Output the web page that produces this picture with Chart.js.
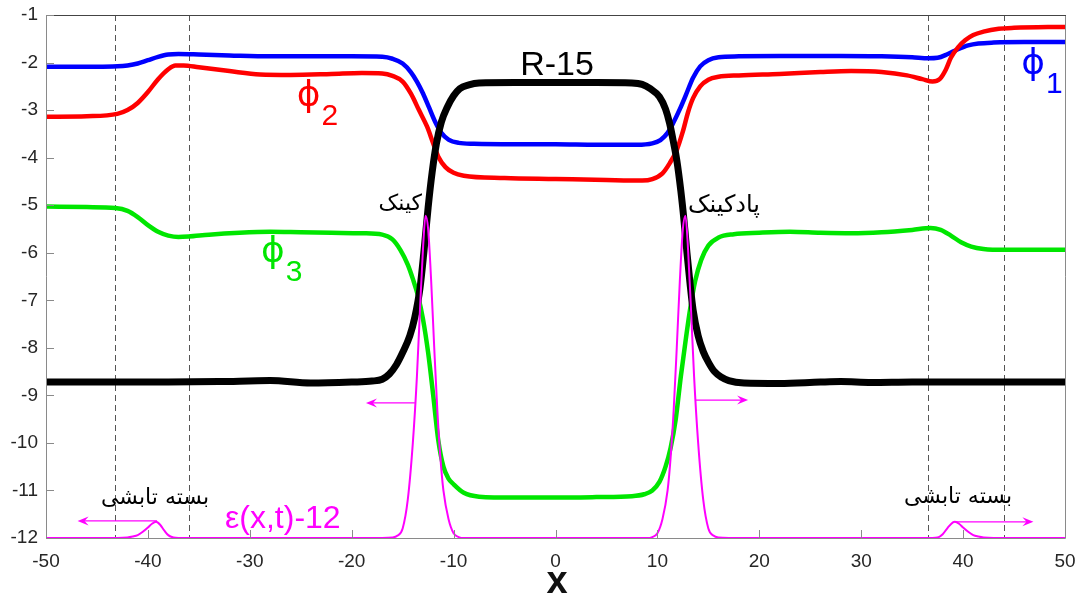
<!DOCTYPE html>
<html><head><meta charset="utf-8">
<script src="https://cdn.jsdelivr.net/npm/chart.js@4.4.0/dist/chart.umd.min.js"></script>
<style>html,body{margin:0;padding:0;background:#fff;} #wrap{width:1078px;height:595px;}</style>
</head><body><div id="wrap"><canvas id="c" width="1078" height="595"></canvas></div>
<script>
// ---- data ----
const xPhi1 = [-50,-45,-43,-42,-41,-40,-39,-38,-37,-35,-32,-28,-24,-20,-17,-16,-15,-14.2,-13.6,-13,-12.4,-11.8,-11.2,-10.5,-9.5,-8,-4,0,4,8,9.5,10.3,11,11.6,12.2,12.8,13.5,14.2,15,16,18,22,28,32,35,36.6,37.5,38.5,39.5,40.5,41.5,43,46,50];
const yPhi1 = [-2.09,-2.09,-2.08,-2.06,-2.02,-1.95,-1.88,-1.83,-1.82,-1.83,-1.85,-1.87,-1.87,-1.87,-1.88,-1.92,-2.02,-2.2,-2.4,-2.65,-2.95,-3.25,-3.48,-3.62,-3.69,-3.71,-3.72,-3.72,-3.73,-3.73,-3.70,-3.63,-3.48,-3.25,-2.98,-2.68,-2.32,-2.08,-1.95,-1.89,-1.87,-1.86,-1.86,-1.87,-1.89,-1.91,-1.9,-1.82,-1.72,-1.64,-1.60,-1.58,-1.57,-1.57];

const xPhi2 = [-50,-46,-43,-42,-41,-40,-39,-38,-37.3,-36.5,-35,-32,-29,-26,-22,-19,-17,-16,-15,-14.2,-13.4,-12.6,-12,-11.5,-10.8,-10,-9,-5,0,5,8.5,9.5,10.5,11.2,11.9,12.5,13,13.5,14.2,15,16,18,22,26,29,32,34.5,36,37,37.7,38.3,38.8,39.5,40.2,41,42,43.5,45,50];
const yPhi2 = [-3.14,-3.13,-3.08,-3.0,-2.85,-2.62,-2.35,-2.14,-2.06,-2.06,-2.10,-2.18,-2.25,-2.26,-2.24,-2.22,-2.23,-2.28,-2.40,-2.65,-3.0,-3.35,-3.7,-3.98,-4.2,-4.32,-4.38,-4.43,-4.45,-4.47,-4.48,-4.45,-4.33,-4.12,-3.84,-3.45,-3.05,-2.75,-2.5,-2.36,-2.30,-2.27,-2.24,-2.20,-2.18,-2.20,-2.27,-2.35,-2.40,-2.35,-2.15,-1.90,-1.68,-1.53,-1.42,-1.35,-1.29,-1.27,-1.25];

const xPhi3 = [-50,-46,-43.2,-42,-41,-40,-39,-38,-37,-36,-34,-31,-28,-25,-22,-19,-17,-16,-15.2,-14.5,-14,-13.5,-13,-12.5,-12,-11.5,-11,-10.5,-10,-9,-7.5,-4,0,4,7.5,8.7,9.5,10.2,10.8,11.3,11.8,12.3,12.8,13.2,13.7,14.3,15,16,17.5,20,23,26,29,32,35,36.8,37.8,38.8,39.8,40.8,42,44,50];
const yPhi3 = [-5.03,-5.04,-5.06,-5.12,-5.25,-5.42,-5.56,-5.64,-5.67,-5.66,-5.62,-5.58,-5.56,-5.57,-5.58,-5.59,-5.62,-5.72,-5.95,-6.25,-6.55,-6.9,-7.4,-8.1,-9.0,-9.95,-10.5,-10.75,-10.87,-11.05,-11.13,-11.15,-11.15,-11.14,-11.12,-11.08,-11.0,-10.82,-10.5,-10.1,-9.5,-8.6,-7.8,-7.2,-6.6,-6.15,-5.85,-5.68,-5.61,-5.58,-5.56,-5.58,-5.59,-5.57,-5.52,-5.48,-5.52,-5.64,-5.78,-5.87,-5.92,-5.94,-5.94];

const xR = [-50,-44,-38,-33,-28,-24,-20,-18,-17,-16.3,-15.6,-15,-14.3,-13.8,-13.3,-12.9,-12.5,-12.1,-11.7,-11.2,-10.6,-10,-9.4,-8.5,-7.5,-4,0,4,7.5,8.5,9.3,10.2,10.8,11.2,11.6,11.9,12.3,12.6,12.9,13.2,13.5,14,14.5,15,15.6,16.3,17,18.5,22,26,28,31,35,40,50];
const yR = [-8.72,-8.72,-8.72,-8.71,-8.69,-8.74,-8.72,-8.70,-8.66,-8.55,-8.35,-8.1,-7.75,-7.35,-6.75,-5.95,-5.05,-4.3,-3.72,-3.25,-2.93,-2.7,-2.55,-2.47,-2.43,-2.42,-2.42,-2.42,-2.43,-2.46,-2.55,-2.72,-2.98,-3.28,-3.7,-4.05,-4.7,-5.3,-6.0,-6.64,-7.2,-7.75,-8.08,-8.3,-8.5,-8.62,-8.69,-8.74,-8.75,-8.72,-8.71,-8.73,-8.72,-8.72,-8.72];

const xEps = [-50,-43,-42,-41.5,-41,-40.5,-40,-39.6,-39.2,-38.8,-38.4,-38,-37.5,-37,-17,-16,-15.5,-15,-14.5,-14,-13.6,-13.3,-13,-12.75,-12.5,-12.2,-11.9,-11.6,-11.3,-11,-10.5,-10,-9.5,-9,9,9.5,10,10.5,11,11.3,11.6,11.9,12.2,12.5,12.75,13,13.3,13.6,14,14.5,15,15.5,16,17,37,37.5,38,38.5,39,39.2,39.6,40,40.5,41,41.5,42,43,50];
const yEps = [-12,-12,-11.99,-11.97,-11.94,-11.87,-11.78,-11.70,-11.66,-11.72,-11.84,-11.94,-11.99,-12,-12,-11.99,-11.95,-11.8,-11.2,-10.0,-8.6,-7.2,-5.9,-5.22,-5.5,-6.6,-8.0,-9.3,-10.3,-11.0,-11.6,-11.9,-11.98,-12,-12,-11.98,-11.9,-11.6,-11.0,-10.3,-9.3,-8.0,-6.6,-5.5,-5.22,-5.9,-7.2,-8.6,-10.0,-11.2,-11.8,-11.95,-11.99,-12,-12,-11.99,-11.92,-11.78,-11.67,-11.66,-11.70,-11.78,-11.87,-11.94,-11.97,-11.99,-12,-12];

const xTickValues = [-50,-40,-30,-20,-10,0,10,20,30,40,50];
const yTickValues = [-12,-11,-10,-9,-8,-7,-6,-5,-4,-3,-2,-1];
const dashedX = [-43.2,-36,36.6,44];

// ---- helpers ----
const pts = (xs, ys) => xs.map((x, i) => ({x: x, y: ys[i]}));
const LAT = '"Liberation Sans", Arial, sans-serif';
const FA = '"DejaVu Sans", sans-serif';

const overlay = {
  id: 'overlay',
  beforeDatasetsDraw(chart) {
    const {ctx, chartArea: a, scales: {x}} = chart;
    ctx.save();
    ctx.strokeStyle = '#555';
    ctx.lineWidth = 1;
    ctx.setLineDash([6, 4]);
    dashedX.forEach(v => {
      const px = Math.round(x.getPixelForValue(v)) + 0.5;
      ctx.beginPath(); ctx.moveTo(px, a.top); ctx.lineTo(px, a.bottom); ctx.stroke();
    });
    ctx.restore();
  },
  afterDatasetsDraw(chart) {
    const {ctx, chartArea: a, scales: {x, y}} = chart;
    ctx.save();
    // frame
    ctx.lineWidth = 1;
    ctx.strokeStyle = '#8a8a8a';
    ctx.beginPath();
    ctx.moveTo(a.left + 0.5, a.top); ctx.lineTo(a.left + 0.5, a.bottom + 0.5);
    ctx.lineTo(a.right + 0.5, a.bottom + 0.5); ctx.lineTo(a.right + 0.5, a.top);
    ctx.stroke();
    ctx.strokeStyle = '#444';
    ctx.beginPath(); ctx.moveTo(a.left, a.top + 0.5); ctx.lineTo(a.right + 1, a.top + 0.5); ctx.stroke();
    // inside ticks
    ctx.strokeStyle = '#8a8a8a';
    xTickValues.forEach(v => {
      const px = Math.round(x.getPixelForValue(v)) + 0.5;
      ctx.beginPath(); ctx.moveTo(px, a.bottom); ctx.lineTo(px, a.bottom - 8); ctx.stroke();
    });
    yTickValues.forEach(v => {
      const py = Math.round(y.getPixelForValue(v)) + 0.5;
      ctx.beginPath(); ctx.moveTo(a.left, py); ctx.lineTo(a.left + 8, py); ctx.stroke();
    });
    // arrows
    const arrow = (x0, x1, yv) => {
      const px0 = x.getPixelForValue(x0), px1 = x.getPixelForValue(x1), py = y.getPixelForValue(yv);
      const d = Math.sign(px1 - px0);
      ctx.strokeStyle = '#ff00ff'; ctx.fillStyle = '#ff00ff'; ctx.lineWidth = 1.2;
      ctx.beginPath(); ctx.moveTo(px0, py); ctx.lineTo(px1 - d * 3, py); ctx.stroke();
      ctx.beginPath();
      ctx.moveTo(px1, py);
      ctx.lineTo(px1 - d * 11, py - 4.5);
      ctx.lineTo(px1 - d * 7, py);
      ctx.lineTo(px1 - d * 11, py + 4.5);
      ctx.closePath(); ctx.fill();
    };
    arrow(-39.1, -46.9, -11.64);
    arrow(-13.8, -18.6, -9.16);
    arrow(13.7, 18.9, -9.1);
    arrow(39.2, 46.9, -11.66);
    // text labels
    const text = (s, xv, yv, font, color, align, dx, dy) => {
      ctx.font = font; ctx.fillStyle = color; ctx.textAlign = align || 'left'; ctx.textBaseline = 'alphabetic';
      ctx.fillText(s, x.getPixelForValue(xv) + (dx || 0), y.getPixelForValue(yv) + (dy || 0));
    };
    text('R-15', 0.15, -2.26, '34px ' + LAT, '#000', 'center');
    const phi = (sub, xv, yv, color) => {
      ctx.font = '36px ' + FA; ctx.fillStyle = color; ctx.textAlign = 'left'; ctx.textBaseline = 'alphabetic';
      const px = x.getPixelForValue(xv), py = y.getPixelForValue(yv);
      ctx.fillText('\u03D5', px, py);
      const w = ctx.measureText('\u03D5').width;
      ctx.font = '30px ' + LAT;
      ctx.fillText(sub, px + w + 1, py + 19);
    };
    phi('2', -25.4, -2.92, '#ff0000');
    phi('3', -28.9, -6.2, '#00e600');
    phi('1', 45.7, -2.24, '#0000ff');
    text('\u03B5(x,t)-12', -32.43, -11.78, '32px ' + LAT, '#ff00ff', 'left');
    ctx.direction = 'rtl';
    text('کینک', -13.1, -5.10, '22px ' + FA, '#000', 'right');
    text('پادکینک', 13.0, -5.14, '24px ' + FA, '#000', 'left');
    text('بسته تابشی', -39.3, -11.28, '22px ' + FA, '#000', 'center');
    text('بسته تابشی', 39.5, -11.26, '22px ' + FA, '#000', 'center');
    ctx.direction = 'ltr';
    // x axis title
    ctx.font = 'bold 38px ' + LAT; ctx.fillStyle = '#111'; ctx.textAlign = 'center'; ctx.textBaseline = 'alphabetic';
    ctx.fillText('x', x.getPixelForValue(0.15), a.bottom + 55);
    ctx.restore();
  }
};

const line = (data, color, width, order) => ({
  data: data, borderColor: color, borderWidth: width, order: order,
  pointRadius: 0, fill: false, cubicInterpolationMode: 'monotone',
  borderCapStyle: 'round', borderJoinStyle: 'round'
});

new Chart(document.getElementById('c'), {
  type: 'line',
  data: {
    datasets: [
      line(pts(xEps, yEps), '#ff00ff', 2, 0),
      line(pts(xR, yR), '#000000', 7, 1),
      line(pts(xPhi3, yPhi3), '#00e600', 4.5, 2),
      line(pts(xPhi2, yPhi2), '#ff0000', 4.5, 3),
      line(pts(xPhi1, yPhi1), '#0000ff', 4.5, 4)
    ]
  },
  options: {
    responsive: false, animation: false, devicePixelRatio: 1,
    layout: {padding: {left: 0, right: 13, top: 15, bottom: 0}},
    plugins: {legend: {display: false}, tooltip: {enabled: false}},
    scales: {
      x: {
        type: 'linear', min: -50, max: 50,
        ticks: {stepSize: 10, color: '#262626', font: {family: LAT, size: 19}, padding: 12, maxRotation: 0, autoSkip: false},
        grid: {display: false, drawTicks: false}, border: {display: false},
        afterFit(s) { s.height = 57; s.paddingLeft = 0; s.paddingRight = 0; }
      },
      y: {
        type: 'linear', min: -12, max: -1,
        ticks: {stepSize: 1, color: '#262626', font: {family: LAT, size: 19}, padding: 8, autoSkip: false},
        grid: {display: false, drawTicks: false}, border: {display: false},
        afterFit(s) { s.width = 46; s.paddingTop = 0; s.paddingBottom = 0; }
      }
    }
  },
  plugins: [overlay]
});
</script></body></html>
